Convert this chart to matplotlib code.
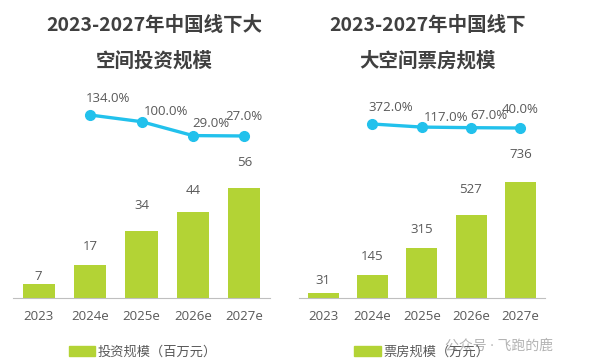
# 2023-2027年中国线下大空间 投资规模 / 票房规模
import matplotlib
matplotlib.use('Agg')
import matplotlib.pyplot as plt
from matplotlib.patches import Patch

plt.rcParams['font.family'] = ['Open Sans', 'Noto Sans CJK SC', 'DejaVu Sans']

years = ['2023', '2024e', '2025e', '2026e', '2027e']
invest = [7, 17, 34, 44, 56]
invest_growth = [134.0, 100.0, 29.0, 27.0]
boxoffice = [31, 145, 315, 527, 736]
boxoffice_growth = [372.0, 117.0, 67.0, 40.0]

title_left = '2023-2027年中国线下大\n空间投资规模'
title_right = '2023-2027年中国线下\n大空间票房规模'
legend_left = '投资规模（百万元）'
legend_right = '票房规模（万元）'

BAR = '#b3d335'
LINE = '#22c1ec'
TXT = '#595959'
W, H = 591, 364

# label offsets in pixels
pct_off = [(18, 17), (24, 10), (18, 12), (0, 19)]
bar_off_left = [8, 18, 26, 21, 26]
bar_off_right = [13, 19, 19, 25, 28]

fig = plt.figure(figsize=(W / 100, H / 100), dpi=100)


def panel(x0, x1, vals, growth, bar_top, line_lim, title, tx, leg, legx, boff):
    ax = fig.add_axes([x0 / W, 66 / H, (x1 - x0) / W, 208 / H])
    xs = range(len(vals))
    ax.bar(xs, vals, width=0.63, color=BAR, zorder=2)
    ax.set_xlim(-0.5, len(vals) - 0.5)
    ax.set_ylim(0, bar_top)
    for s in ['top', 'left', 'right']:
        ax.spines[s].set_visible(False)
    ax.spines['bottom'].set_color('#bfbfbf')
    ax.set_yticks([])
    ax.set_xticks(list(xs))
    ax.set_xticklabels(years, fontsize=9.5, color=TXT)
    ax.tick_params(axis='x', length=0, pad=9)
    for i, v in enumerate(vals):
        ax.annotate(str(v), (i, v), xytext=(0, boff[i] * 0.72), textcoords='offset points',
                    ha='center', va='center', fontsize=9.5, color=TXT)

    ax2 = ax.twinx()
    ax2.set_ylim(*line_lim)
    lx = list(range(1, len(vals)))
    ax2.plot(lx, growth, color=LINE, lw=2.4, marker='o', ms=7, zorder=3)
    ax2.axis('off')
    for i, g in enumerate(growth):
        dx, dy = pct_off[i]
        ax2.annotate(f'{g:.1f}%', (lx[i], g), xytext=(dx * 0.72, dy * 0.72),
                     textcoords='offset points', ha='center', va='center',
                     fontsize=9.5, color=TXT)

    fig.text(tx / W, 1 - 43 / H, title, ha='center', va='center', fontsize=14,
             fontweight='bold', color='#404040', linespacing=2.05,
             family=['Noto Sans CJK SC', 'DejaVu Sans'])
    fig.legend(handles=[Patch(color=BAR, label=leg)], loc='center',
               bbox_to_anchor=(legx / W, 1 - 352 / H), frameon=False,
               fontsize=9.5, handlelength=2.0, handleheight=0.7,
               handletextpad=0.2, labelcolor=TXT)


panel(13, 270, invest, invest_growth, 106.1, (-799.7, 261.6),
      title_left, 154, legend_left, 143, bar_off_left)
panel(298.5, 545, boxoffice, boxoffice_growth, 1320, (-14068, 3194),
      title_right, 428, legend_right, 422, bar_off_right)

# watermark
fig.text(445 / W, 1 - 346 / H, '公众号 · 飞跑的鹿', fontsize=10, color='#9a9a9a',
         alpha=0.75, va='center', ha='left')

fig.savefig('out.png', dpi=100)
